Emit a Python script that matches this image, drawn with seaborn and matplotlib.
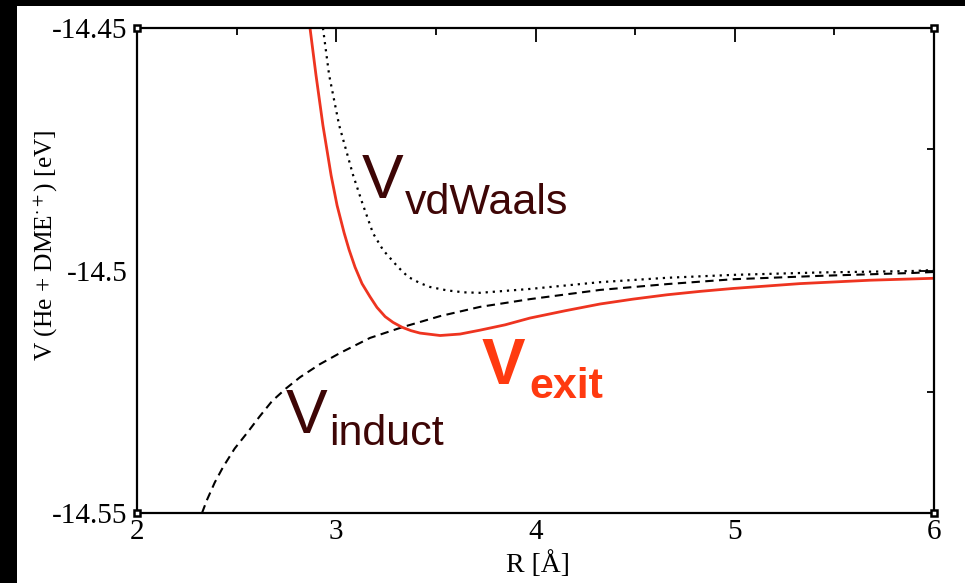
import numpy as np
import pandas as pd
import seaborn as sns
import matplotlib.pyplot as plt
from matplotlib.patches import Rectangle

# Interaction potentials of He + DME·+ versus separation R (Å), energies in eV
r_exit = [2.868, 2.898, 2.933, 2.974, 3.004, 3.019, 3.039, 3.064, 3.094, 3.129,
          3.169, 3.204, 3.245, 3.285, 3.330, 3.375, 3.420, 3.521, 3.621, 3.721,
          3.847, 3.972, 4.148, 4.324, 4.489, 4.660, 4.826, 4.991, 5.327, 5.679, 6.0]
v_exit = [-14.4500, -14.4597, -14.4701, -14.4804, -14.4866, -14.4890, -14.4922,
          -14.4957, -14.4993, -14.5027, -14.5054, -14.5076, -14.5095, -14.5107,
          -14.5117, -14.5124, -14.5129, -14.5134, -14.5131, -14.5123,
          -14.5112, -14.5098, -14.5083, -14.5069, -14.5059, -14.5050,
          -14.5043, -14.5037, -14.5027, -14.5020, -14.5016]

r_vdw = [2.933, 2.964, 3.014, 3.084, 3.129, 3.184, 3.235, 3.310, 3.360, 3.420,
         3.471, 3.556, 3.640, 3.721, 3.972, 4.324, 4.660, 4.991, 5.428, 5.895, 6.0]
v_vdw = [-14.4500, -14.4597, -14.4700, -14.4803, -14.4859, -14.4923, -14.4958,
         -14.4993, -14.5013, -14.5026, -14.5034, -14.5041, -14.5045, -14.5046,
         -14.5038, -14.5024, -14.5015, -14.5009, -14.5004, -14.5001, -14.4999]

r_ind = [2.326, 2.351, 2.390, 2.432, 2.490, 2.552, 2.615, 2.678, 2.748, 2.818,
         2.918, 3.019, 3.169, 3.330, 3.521, 3.721, 3.972, 4.324, 4.660, 4.991,
         5.428, 5.895, 6.0]
v_ind = [-14.5500, -14.5473, -14.5437, -14.5405, -14.5367, -14.5335, -14.5301,
         -14.5269, -14.5243, -14.5220, -14.5193, -14.5170, -14.5139, -14.5117,
         -14.5094, -14.5075, -14.5059, -14.5040, -14.5028, -14.5018, -14.5011,
         -14.5005, -14.5003]

x_ticks = [2, 3, 4, 5, 6]
x_ticklabels = ["2", "3", "4", "5", "6"]
y_ticks = [-14.55, -14.5, -14.45]
y_ticklabels = ["-14.55", "-14.5", "-14.45"]

sns.set_theme(style="white")
plt.rcParams["font.family"] = ["Liberation Serif", "DejaVu Serif"]
plt.rcParams["mathtext.fontset"] = "stix"

fig = plt.figure(figsize=(9.65, 5.83), dpi=100, facecolor="white")
ax = fig.add_axes([0.142, 0.120, 0.826, 0.832])
ax.set_facecolor("white")

# dark frame strips along the top and left edges of the slide
fig.patches.append(Rectangle((0, 0), 17 / 965, 1, transform=fig.transFigure,
                             facecolor="black", edgecolor="none", zorder=0))
fig.patches.append(Rectangle((0, 1 - 6 / 583), 1, 6 / 583, transform=fig.transFigure,
                             facecolor="black", edgecolor="none", zorder=0))

red = "#ee3420"
maroon = "#3e0606"

df_vdw = pd.DataFrame({"R": r_vdw, "V": v_vdw})
df_ind = pd.DataFrame({"R": r_ind, "V": v_ind})
df_exit = pd.DataFrame({"R": r_exit, "V": v_exit})

sns.lineplot(data=df_vdw, x="R", y="V", ax=ax, sort=False, estimator=None,
             color="black", linewidth=1.6, linestyle=(0, (1, 2.2)))
sns.lineplot(data=df_ind, x="R", y="V", ax=ax, sort=False, estimator=None,
             color="black", linewidth=1.5, linestyle=(0, (4, 2.6)))
sns.lineplot(data=df_exit, x="R", y="V", ax=ax, sort=False, estimator=None,
             color=red, linewidth=2.0)

ax.set_xlim(2, 6)
ax.set_ylim(-14.55, -14.45)
ax.set_xticks(x_ticks)
ax.set_xticklabels(x_ticklabels)
ax.set_yticks(y_ticks)
ax.set_yticklabels(y_ticklabels)
ax.set_xticks([2.5, 3.5, 4.5, 5.5], minor=True)
ax.set_yticks([-14.525, -14.475], minor=True)

ax.tick_params(which="both", direction="in", top=True, right=True,
               colors="black", width=1.3)
ax.tick_params(which="major", length=10, labelsize=21, pad=4)
ax.tick_params(which="minor", length=5)
ax.tick_params(axis="y", which="major", pad=7)

for s in ax.spines.values():
    s.set_color("black")
    s.set_linewidth(1.6)

# small square handles at the frame corners
ax.plot([0, 1, 0, 1], [0, 0, 1, 1], linestyle="none", marker="s", ms=4.5,
        mfc="white", mec="black", mew=1.8, transform=ax.transAxes,
        clip_on=False, zorder=5)

ax.set_xlabel("R [Å]", fontsize=20, color="black")
ax.set_ylabel(r"V (He + DME$^{\cdot+}$) [eV]", fontsize=18.3, color="black")
ax.xaxis.set_label_coords(0.503, -0.078)
ax.yaxis.set_label_coords(-0.097, 0.553)

sans = ["Liberation Sans", "DejaVu Sans"]
# curve labels: large "V" with a subscript name
ax.text(3.13, -14.4851, "V", fontsize=45, color=maroon, family=sans, va="baseline")
ax.text(3.345, -14.4884, "vdWaals", fontsize=31, color=maroon, family=sans, va="baseline")

ax.text(2.745, -14.5335, "V", fontsize=45, color=maroon, family=sans, va="baseline")
ax.text(2.965, -14.5360, "induct", fontsize=31, color=maroon, family=sans, va="baseline")

ax.text(3.73, -14.5234, "V", fontsize=47, color="#ff3a10", family=sans,
        weight="bold", va="baseline")
ax.text(3.97, -14.5262, "exit", fontsize=31, color="#ff3a10", family=sans,
        weight="bold", va="baseline")

fig.savefig("out.png", dpi=100, facecolor=fig.get_facecolor())
